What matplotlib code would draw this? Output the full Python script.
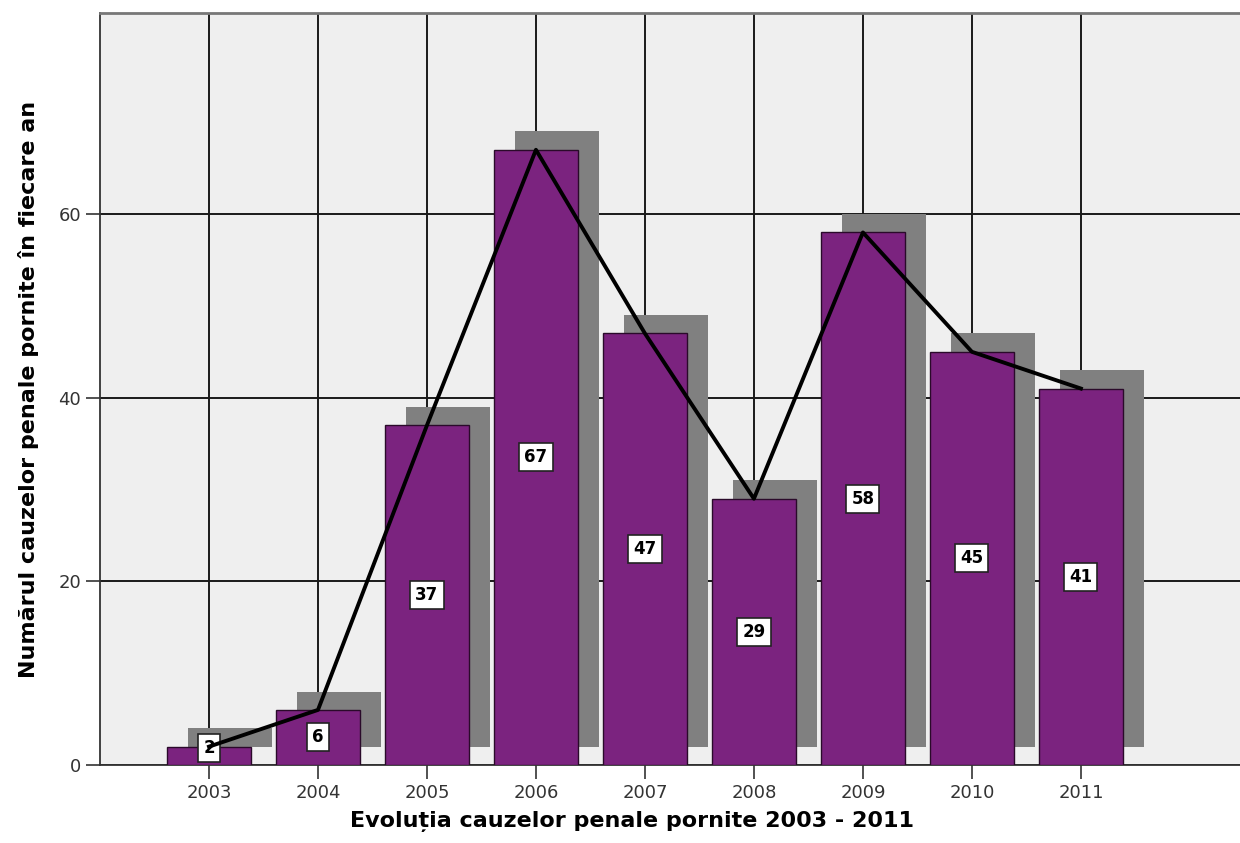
import numpy as np
from matplotlib import pyplot as plt

years = ['2003', '2004', '2005', '2006', '2007', '2008', '2009', '2010', '2011']
counts = [2, 6, 37, 67, 47, 29, 58, 45, 41]

purple = '#7b237f'
shadow = '#808080'

fig = plt.figure(figsize=(12.4, 8.43), dpi=100)
ax = fig.add_axes([100 / 1240, 78 / 843, 1 - 100 / 1240, (765 - 13) / 843])
ax.set_facecolor('#efefef')

x = np.arange(len(years))
width = 0.77

# shadow behind the bars
ax.bar(x + 0.19, counts, width=width, bottom=2, color=shadow, zorder=2)
ax.bar(x, counts, width=width, color=purple, edgecolor='#2a0a2a', linewidth=1.0, zorder=3)
ax.plot(x, counts, color='black', linewidth=2.8, zorder=5)

for i in range(len(counts)):
    # keep the label box above the x axis for very small bars
    ypos = max(counts[i] / 2, 1.8)
    ax.text(x[i], ypos, str(counts[i]), ha='center', va='center',
            fontsize=12, fontweight='bold', family='DejaVu Sans', zorder=4,
            bbox=dict(boxstyle='square,pad=0.3', facecolor='white', edgecolor='#222222', linewidth=1.2))

ax.set_xlim(-1, 9.46)
ax.set_ylim(0, 81.9)
ax.set_xticks(x)
ax.set_xticklabels(years)
ax.set_yticks([0, 20, 40, 60])

ax.grid(True, color='#1a1a1a', linewidth=1.4, zorder=1)
ax.set_axisbelow(True)

ax.tick_params(axis='both', direction='out', length=10, width=1.2, color='#333333',
               labelsize=13, labelcolor='#333333')
ax.tick_params(axis='x', pad=4)

ax.spines['right'].set_visible(False)
ax.spines['top'].set_color('#777777')
ax.spines['top'].set_linewidth(2)
ax.spines['left'].set_color('#333333')
ax.spines['left'].set_linewidth(1.3)
ax.spines['bottom'].set_color('#333333')
ax.spines['bottom'].set_linewidth(1.3)

ax.set_xlabel('Evoluția cauzelor penale pornite 2003 - 2011', fontsize=16, fontweight='bold')
ax.xaxis.label.set_va('top')
ax.xaxis.set_label_coords(0.467, -0.061)
ax.set_ylabel('Numărul cauzelor penale pornite în fiecare an', fontsize=16, fontweight='bold')
ax.yaxis.label.set_va('center')
ax.yaxis.set_label_coords(-0.0623, 0.5)

fig.savefig('out.png', dpi=100)
